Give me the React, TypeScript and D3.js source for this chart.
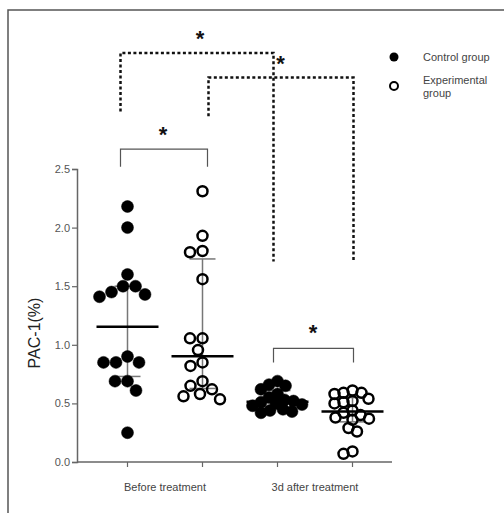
import React, { useEffect, useRef } from 'react';
import * as d3 from 'd3';

// categories on the x axis and the two groups inside each
const categories = ['Before treatment', '3d after treatment'];
const groups = ['Control group', 'Experimental group'];

// PAC-1 (%), one array per column
const controlBefore = [2.18, 2.0, 1.6, 1.5, 1.5, 1.45, 1.43, 1.41, 0.9, 0.85, 0.85, 0.85, 0.69, 0.69, 0.61, 0.25];
const experimentalBefore = [2.31, 1.93, 1.8, 1.79, 1.56, 1.055, 1.055, 0.955, 0.85, 0.82, 0.69, 0.65, 0.62, 0.58, 0.56, 0.535];
const controlAfter = [0.69, 0.66, 0.65, 0.62, 0.58, 0.55, 0.53, 0.52, 0.51, 0.5, 0.49, 0.48, 0.45, 0.44, 0.43, 0.42];
const experimentalAfter = [0.61, 0.59, 0.59, 0.58, 0.54, 0.52, 0.51, 0.5, 0.44, 0.42, 0.4, 0.38, 0.37, 0.36, 0.29, 0.26, 0.09, 0.07];

const yTicks = [0, 0.5, 1.0, 1.5, 2.0, 2.5];

// quantile the way GraphPad does it: (n + 1) * p
const quant = (vals: number[], p: number) => {
  const s = [...vals].sort((a, b) => a - b);
  const h = (s.length + 1) * p - 1;
  const lo = Math.max(0, Math.floor(h));
  const hi = Math.min(s.length - 1, lo + 1);
  return s[lo] + (h - lo) * (s[hi] - s[lo]);
};

// beeswarm: each dot takes the nearest offset from the centre that doesn't collide
const swarm = (vals: number[], y: (v: number) => number, d: number) => {
  const placed: { v: number; dx: number; py: number }[] = [];
  [...vals].sort((a, b) => b - a).forEach(v => {
    const py = y(v);
    let dx = 0;
    for (let k = 0; k < 400; k++) {
      const cand = (k % 2 === 0 ? 1 : -1) * Math.ceil(k / 2) * 0.5;
      if (placed.every(p => Math.hypot(p.dx - cand, p.py - py) >= d)) { dx = cand; break; }
    }
    placed.push({ v, dx, py });
  });
  return placed;
};

const App = () => {
  const svgRef = useRef<SVGSVGElement>(null);

  useEffect(() => {
    const svg = d3.select(svgRef.current);
    svg.selectAll('*').remove();

    const font = 'Liberation Sans, Arial, sans-serif';
    const axisLeftX = 77;
    const axisRightX = 392;

    const y = d3.scaleLinear().domain([0, 2.5]).range([462, 169]);
    const x0 = d3.scaleBand().domain(categories).range([90, 390]).padding(0);
    const x1 = d3.scalePoint().domain(groups).range([0, x0.bandwidth()]).padding(0.5);
    const cx = (cat: string, g: string) => (x0(cat) as number) + (x1(g) as number);

    const columns = [
      { cat: categories[0], g: groups[0], vals: controlBefore },
      { cat: categories[0], g: groups[1], vals: experimentalBefore },
      { cat: categories[1], g: groups[0], vals: controlAfter },
      { cat: categories[1], g: groups[1], vals: experimentalAfter },
    ];

    // frame (only left and top show in the picture)
    svg.append('rect')
      .attr('x', 8).attr('y', 10).attr('width', 600).attr('height', 600)
      .attr('fill', 'none').attr('stroke', '#555').attr('stroke-width', 1.5);

    // y axis
    const ya = svg.append('g').attr('transform', `translate(${axisLeftX},0)`)
      .call(d3.axisLeft(y).tickValues(yTicks).tickFormat(d3.format('.1f')).tickSize(5).tickPadding(2));
    ya.select('.domain').attr('stroke', '#666').attr('stroke-width', 1.5);
    ya.selectAll('line').attr('stroke', '#666').attr('stroke-width', 1.2);
    ya.selectAll('text').attr('fill', '#555').style('font-size', '11px').style('font-family', font);

    // x axis
    svg.append('line')
      .attr('x1', axisLeftX).attr('x2', axisRightX).attr('y1', y(0)).attr('y2', y(0))
      .attr('stroke', '#666').attr('stroke-width', 1.5);
    svg.append('g').selectAll('line').data(columns).join('line')
      .attr('x1', d => cx(d.cat, d.g)).attr('x2', d => cx(d.cat, d.g))
      .attr('y1', y(0)).attr('y2', y(0) + 5)
      .attr('stroke', '#666').attr('stroke-width', 1.2);
    svg.append('g').selectAll('text').data(categories).join('text')
      .attr('x', d => (x0(d) as number) + x0.bandwidth() / 2)
      .attr('y', 491)
      .attr('text-anchor', 'middle')
      .attr('fill', '#444')
      .style('font-size', '11px').style('font-family', font)
      .text(d => d);

    // y label
    svg.append('text')
      .attr('transform', 'translate(40,333) rotate(-90)')
      .attr('text-anchor', 'middle')
      .attr('fill', '#222')
      .style('font-size', '16px').style('font-family', font)
      .text('PAC-1(%)');

    // median + interquartile range and dots
    columns.forEach(col => {
      const c = cx(col.cat, col.g);
      const q1 = quant(col.vals, 0.25);
      const q3 = quant(col.vals, 0.75);
      const med = quant(col.vals, 0.5);
      const filled = col.g === groups[0];
      const g = svg.append('g');

      g.append('line').attr('x1', c).attr('x2', c).attr('y1', y(q3)).attr('y2', y(q1))
        .attr('stroke', '#777').attr('stroke-width', 1.5);
      [q1, q3].forEach(q => {
        g.append('line').attr('x1', c - 13).attr('x2', c + 13).attr('y1', y(q)).attr('y2', y(q))
          .attr('stroke', '#777').attr('stroke-width', 1.5);
      });

      const dist = col.cat === categories[0] ? 12.5 : 9;
      g.selectAll('circle').data(swarm(col.vals, y, dist)).join('circle')
        .attr('cx', d => c + d.dx)
        .attr('cy', d => d.py)
        .attr('r', filled ? 6 : 5)
        .attr('fill', filled ? '#000' : '#fff')
        .attr('fill-opacity', filled ? 1 : 0)
        .attr('stroke', '#000')
        .attr('stroke-width', filled ? 0.5 : 2.5);

      g.append('line').attr('x1', c - 31).attr('x2', c + 31).attr('y1', y(med)).attr('y2', y(med))
        .attr('stroke', '#000').attr('stroke-width', 2.5);
    });

    // significance brackets
    const cBefore = cx(categories[0], groups[0]);
    const eBefore = cx(categories[0], groups[1]);
    const cAfter = cx(categories[1], groups[0]);
    const eAfter = cx(categories[1], groups[1]);

    const bracket = (xa: number, xb: number, top: number, la: number, lb: number, dotted: boolean) => {
      svg.append('path')
        .attr('d', `M${xa},${y(la)}V${y(top)}H${xb}V${y(lb)}`)
        .attr('fill', 'none')
        .attr('stroke', dotted ? '#111' : '#555')
        .attr('stroke-width', dotted ? 2.5 : 1.2)
        .attr('stroke-dasharray', dotted ? '3 2.5' : null);
    };
    const star = (sx: number, sy: number) => {
      svg.append('text')
        .attr('x', sx).attr('y', sy + 11)
        .attr('text-anchor', 'middle')
        .attr('fill', '#111')
        .style('font-size', '22px').style('font-weight', 'bold').style('font-family', font)
        .text('*');
    };

    bracket(cBefore - 7, cAfter - 4, 3.49, 2.99, 1.71, true);
    bracket(eBefore + 6, eAfter + 1, 3.28, 2.95, 1.71, true);
    bracket(cBefore - 7, eBefore + 5, 2.67, 2.52, 2.52, false);
    bracket(cAfter - 4, eAfter + 1, 0.97, 0.85, 0.85, false);
    star(200, 35);
    star(cAfter + 3, 60);
    star(163, 131);
    star(313, 329);

    // legend
    const leg = svg.append('g');
    leg.append('circle').attr('cx', 394).attr('cy', 57).attr('r', 4.5).attr('fill', '#000');
    leg.append('circle').attr('cx', 394).attr('cy', 86).attr('r', 4).attr('fill', 'none')
      .attr('stroke', '#000').attr('stroke-width', 2);
    const lt = [
      { t: 'Control group', yy: 61 },
      { t: 'Experimental', yy: 84 },
      { t: 'group', yy: 97 },
    ];
    leg.selectAll('text').data(lt).join('text')
      .attr('x', 423).attr('y', d => d.yy)
      .attr('fill', '#444')
      .style('font-size', '11px').style('font-family', font)
      .text(d => d.t);
  }, []);

  return (
    <svg ref={svgRef} width="504" height="513"
      style={{ position: 'absolute', left: 0, top: 0, background: '#fff' }}></svg>
  );
};

export default App;
